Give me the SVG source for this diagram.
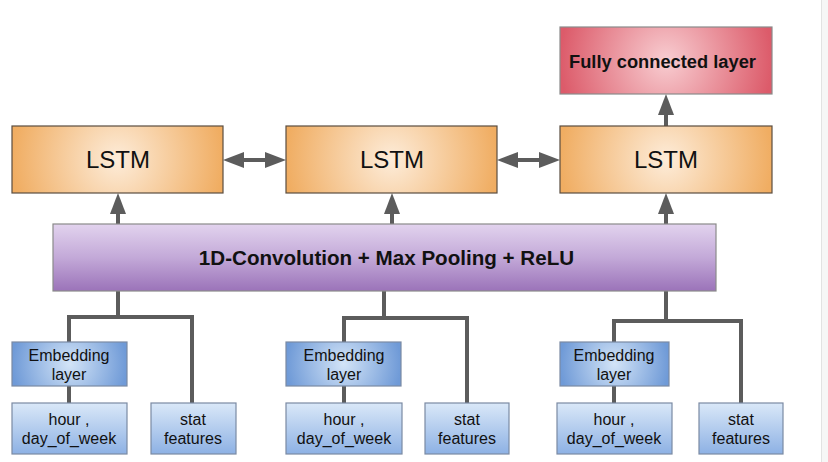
<svg xmlns="http://www.w3.org/2000/svg" width="828" height="462" viewBox="0 0 828 462">
<style>
text{font-family:"Liberation Sans",Arial,sans-serif;fill:#111;text-anchor:middle}
.lstm{fill:url(#gLstm);stroke:#5a4d40;stroke-width:1.2}
.fc{fill:url(#gFc);stroke:#8a8a8a;stroke-width:1.2}
.conv{fill:url(#gConv);stroke:#8a8a8a;stroke-width:1.2}
.emb{fill:url(#gEmb);stroke:#7b8aa3;stroke-width:1.2}
.inp{fill:url(#gInp);stroke:#7b8aa3;stroke-width:1.2}
.big{font-size:24px}
.bold{font-weight:bold}
.sm{font-size:16px}
.ln{fill:none;stroke:#5c5c5c;stroke-width:4}
.arr{fill:none;stroke:#5c5c5c;stroke-width:4;marker-end:url(#ah)}
.darr{fill:none;stroke:#5c5c5c;stroke-width:4;marker-start:url(#ah);marker-end:url(#ah)}
</style>
<defs>
<radialGradient id="gLstm" cx="0.5" cy="0.5" r="0.5" gradientTransform="translate(0.5 0.5) scale(1 3.2) translate(-0.5 -0.5)"><stop offset="0" stop-color="#fdecd9"/><stop offset="1" stop-color="#f0ad62"/></radialGradient>
<radialGradient id="gFc" cx="0.5" cy="0.5" r="0.5" gradientTransform="translate(0.5 0.5) scale(1 3.2) translate(-0.5 -0.5)"><stop offset="0" stop-color="#f8cdd1"/><stop offset="1" stop-color="#dc5b6a"/></radialGradient>
<linearGradient id="gConv" x1="0" y1="0" x2="0" y2="1"><stop offset="0" stop-color="#e2d3ee"/><stop offset="0.5" stop-color="#c3a9d8"/><stop offset="1" stop-color="#9b73b9"/></linearGradient>
<radialGradient id="gEmb" cx="0.5" cy="0.5" r="0.5" gradientTransform="translate(0.5 0.5) scale(1 2.6) translate(-0.5 -0.5)"><stop offset="0" stop-color="#d3e4f7"/><stop offset="1" stop-color="#6f9ad7"/></radialGradient>
<linearGradient id="gInp" x1="0" y1="0" x2="0" y2="1"><stop offset="0" stop-color="#dae8f8"/><stop offset="1" stop-color="#8db1e4"/></linearGradient>
<marker id="ah" viewBox="0 0 21 16" refX="11" refY="8" markerWidth="21" markerHeight="16" markerUnits="userSpaceOnUse" orient="auto-start-reverse"><path d="M0,0 L21,8 L0,16 z" fill="#5c5c5c"/></marker>
</defs>
<rect x="0" y="0" width="828" height="462" fill="#ffffff"/>
<rect x="821" y="0" width="7" height="462" fill="#f6f6f6"/>
<line x1="821.5" y1="0" x2="821.5" y2="462" stroke="#e2e2e2" stroke-width="1"/>

<g id="connectors">
<path class="arr" d="M118,224 V203"/>
<path class="arr" d="M392,224 V203"/>
<path class="arr" d="M666,224 V203"/>
<path class="arr" d="M666,127 V104"/>
<path class="darr" d="M233,160 H276"/>
<path class="darr" d="M507,160 H550"/>
<path class="ln" d="M118,291 V317"/>
<path class="ln" d="M69,342 V317 H192 V403"/>
<path class="ln" d="M69,386 V403"/>
<path class="ln" d="M384,291 V318"/>
<path class="ln" d="M344,342 V318 H467 V403"/>
<path class="ln" d="M344,386 V403"/>
<path class="ln" d="M666,291 V321"/>
<path class="ln" d="M614,342 V321 H741 V403"/>
<path class="ln" d="M614,386 V403"/>
</g>

<g id="fc"><rect class="fc" x="560" y="27" width="212" height="67"/><text class="bold" x="662.5" y="68" font-size="18.3">Fully connected layer</text></g>
<g id="lstm1"><rect class="lstm" x="12" y="126" width="211" height="67"/><text class="big" x="118" y="168">LSTM</text></g>
<g id="lstm2"><rect class="lstm" x="286" y="126" width="211" height="67"/><text class="big" x="392" y="168">LSTM</text></g>
<g id="lstm3"><rect class="lstm" x="560" y="126" width="212" height="67"/><text class="big" x="666" y="168">LSTM</text></g>
<g id="conv"><rect class="conv" x="53" y="224" width="663" height="67"/><text class="bold" x="386.5" y="265" font-size="20.6">1D-Convolution + Max Pooling + ReLU</text></g>

<g id="emb1"><rect class="emb" x="12" y="342" width="115" height="44"/><text class="sm" x="69" y="361">Embedding</text><text class="sm" x="69" y="380">layer</text></g>
<g id="time1"><rect class="inp" x="12" y="403" width="115" height="51"/><text class="sm" x="69" y="425">hour ,</text><text class="sm" x="69" y="444">day_of_week</text></g>
<g id="stat1"><rect class="inp" x="151" y="403" width="85" height="51"/><text class="sm" x="193" y="425">stat</text><text class="sm" x="193" y="444">features</text></g>

<g id="emb2"><rect class="emb" x="286" y="342" width="115" height="44"/><text class="sm" x="344" y="361">Embedding</text><text class="sm" x="344" y="380">layer</text></g>
<g id="time2"><rect class="inp" x="286" y="403" width="116" height="51"/><text class="sm" x="344" y="425">hour ,</text><text class="sm" x="344" y="444">day_of_week</text></g>
<g id="stat2"><rect class="inp" x="425" y="403" width="84" height="51"/><text class="sm" x="467" y="425">stat</text><text class="sm" x="467" y="444">features</text></g>

<g id="emb3"><rect class="emb" x="560" y="342" width="109" height="44"/><text class="sm" x="614" y="361">Embedding</text><text class="sm" x="614" y="380">layer</text></g>
<g id="time3"><rect class="inp" x="557" y="403" width="115" height="51"/><text class="sm" x="614" y="425">hour ,</text><text class="sm" x="614" y="444">day_of_week</text></g>
<g id="stat3"><rect class="inp" x="699" y="403" width="84" height="51"/><text class="sm" x="741" y="425">stat</text><text class="sm" x="741" y="444">features</text></g>
</svg>
